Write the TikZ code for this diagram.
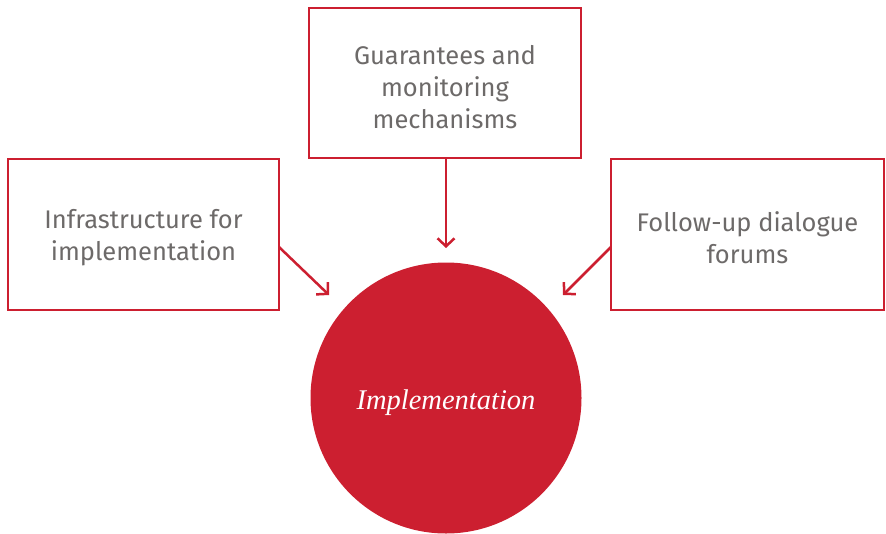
\documentclass[tikz,border=0pt]{standalone}
\usepackage{fontspec}
\setmainfont{Fira Sans}
\newfontfamily\serifit{Liberation Serif}
\usetikzlibrary{arrows.meta}
\definecolor{cred}{HTML}{CC1F30}
\definecolor{tgray}{HTML}{6D6A69}
\tikzset{
  box/.style={draw=cred, line width=2.5pt, fill=white, align=center, inner sep=0pt},
  boxtext/.style={text=tgray, align=center, font=\fontsize{25.5}{32}\selectfont, inner sep=0pt},
  conn/.style={draw=cred, line width=2.5pt, -{Straight Barb[length=8pt,width=17pt,line width=2.5pt]}},
}
\begin{document}
\begin{tikzpicture}[x=1pt,y=-1pt]
\useasboundingbox (0,0) rectangle (886,533);
\node[box, minimum width=272pt, minimum height=150pt] (top) at (445,83) {};
\node[boxtext] (toptext) at (445,87) {Guarantees and\\monitoring\\mechanisms};
\node[box, minimum width=271pt, minimum height=151pt] (left) at (143.5,234.5) {};
\node[boxtext] (lefttext) at (143.5,238) {Infrastructure for\\implementation};
\node[box, minimum width=273pt, minimum height=151pt] (right) at (747.5,234.5) {};
\node[boxtext] (righttext) at (747.5,238) {Follow-up dialogue\\forums};
\node[circle, fill=cred, minimum size=271pt, inner sep=0pt] (impl) at (446,398) {};
\node[text=white, font=\serifit\itshape\fontsize{28.5}{32}\selectfont, inner sep=0pt] (impltext) at (446,403) {Implementation};
\coordinate (la) at (279,247);
\coordinate (lb) at (329,295);
\coordinate (ra) at (611,247);
\coordinate (rb) at (563,295);
\coordinate (tb) at (446,248);
\draw[conn] (top.south -| tb) -- (tb);
\draw[conn] (la) -- (lb);
\draw[conn] (ra) -- (rb);
\end{tikzpicture}
\end{document}
